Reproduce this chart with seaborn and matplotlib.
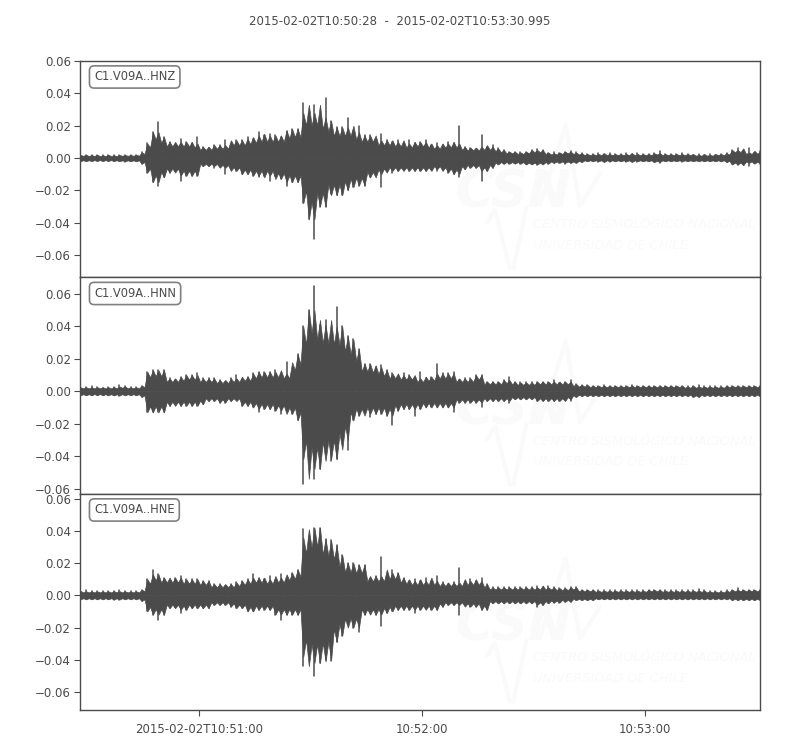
# -*- coding: utf-8 -*-
"""Three-component accelerogram of station C1.V09A, peaks read from the plot."""

import matplotlib.pyplot as plt
import numpy as np
import pandas as pd
import seaborn as sns

TITLE = '2015-02-02T10:50:28  -  2015-02-02T10:53:30.995'
CHANNELS = ['C1.V09A..HNZ', 'C1.V09A..HNN', 'C1.V09A..HNE']
SECONDS = np.arange(123) * 1.5  # seconds after 10:50:28
X_TICKS = [32, 92, 152]
X_TICK_LABELS = ['2015-02-02T10:51:00', '10:52:00', '10:53:00']
Y_TICKS = [-0.06, -0.04, -0.02, 0.0, 0.02, 0.04, 0.06]

# peak amplitudes in thousandths, upper and lower side of each trace
HNZ_HI = [2.0, 1.8, 2.0, 1.6, 2.0, 1.7, 2.1, 1.6, 1.9, 2.0,
          1.8, 3.5, 9, 16, 22, 13, 10, 8, 12, 10,
          9, 13, 7, 6, 8, 8, 11, 7, 11, 11,
          13, 12, 16, 14, 15, 14, 13, 17, 18, 18,
          34, 28, 33, 25, 37, 23, 19, 19, 25, 16,
          20, 14, 14, 8, 15, 11, 10, 11, 9, 11,
          9, 10, 11, 8, 9, 8, 10, 9, 20, 7,
          6.5, 5.5, 14, 7, 8, 6, 5, 4, 3.5, 4,
          3.5, 5, 5.5, 5, 3, 3.5, 3, 4, 4.5, 3.5,
          3, 2.5, 2.5, 3, 2.5, 3, 2.5, 2.5, 3, 2.5,
          3, 2.5, 2.5, 3, 4.5, 2.5, 2.5, 2.5, 3, 2.5,
          2, 2.5, 2, 2.5, 2, 2.5, 3, 5, 6, 3.5,
          6, 3, 4.5]
HNZ_LO = [2.0, 1.9, 1.7, 2.0, 1.8, 1.9, 1.6, 2.0, 2.2, 1.8,
          2, 3.5, 9, 15, 17, 12, 9, 8, 14, 11,
          11, 11, 5, 5, 6, 5, 10, 6, 8, 10,
          10, 11, 12, 11, 14, 11, 13, 17, 15, 15,
          28, 38, 50, 30, 30, 22, 23, 23, 20, 18,
          17, 17, 12, 10, 18, 8, 9, 8, 7, 8,
          8, 8, 8, 7, 8, 7, 9, 10, 12, 7,
          6, 6, 14, 8, 6, 3.5, 4, 3.5, 3, 3.5,
          4, 4, 4.5, 4, 3.5, 3, 3, 3.5, 3, 3,
          2.5, 2, 2, 2.5, 2, 2.5, 2, 2, 2.5, 2,
          2.5, 2, 2, 2.5, 3, 2, 2, 2, 2.5, 2,
          2, 2, 2, 2, 2, 2, 2.5, 4, 4.5, 3,
          5, 3, 3.5]

HNN_HI = [2.5, 2.5, 3.5, 2.5, 2.3, 2.5, 2.6, 4, 3, 2.5,
          2.5, 3.5, 12, 13, 13, 13, 8, 7, 9, 10,
          10, 11, 8, 8, 8, 7, 6, 8, 10, 7,
          9, 11, 12, 12, 12, 13, 10, 18, 11, 23,
          40, 50, 65, 41, 44, 28, 52, 40, 34, 32,
          26, 17, 17, 15, 16, 13, 11, 6, 11, 10,
          8, 12, 8, 9, 17, 11, 11, 12, 7, 8,
          8, 10, 10, 6, 6, 6, 7, 9, 6, 5.5,
          5.5, 5.5, 6, 6, 6, 7, 5, 6, 7, 4.5,
          4, 4, 3.5, 3.5, 4, 3.5, 3.5, 3.5, 3.5, 4,
          3.5, 3.5, 3.5, 3.5, 3.5, 3.5, 3.5, 3.5, 3, 3.5,
          3, 4, 3, 3, 3, 3, 3.5, 3.5, 3.5, 3.5,
          3.5, 3.5, 3.5]
HNN_LO = [2.5, 2.5, 2, 2.5, 2.4, 2.5, 2.6, 3, 2.5, 2.5,
          2.5, 3.5, 13, 13, 13, 13, 9, 7, 9, 9,
          9, 9, 8, 6, 6, 7, 7, 6, 5, 9,
          9, 10, 13, 11, 11, 12, 14, 11, 14, 18,
          57, 42, 54, 48, 32, 43, 42, 30, 36, 18,
          15, 13, 16, 14, 14, 15, 21, 12, 11, 11,
          15, 11, 10, 10, 10, 10, 10, 13, 7, 7,
          7, 7, 10, 6, 6, 6, 6, 7, 5, 5,
          5, 5, 6, 6, 6, 6, 6, 5, 6, 3.5,
          3, 3, 3, 3, 3, 3, 3, 3, 3, 3,
          3, 3, 3, 3, 3, 3, 3, 3, 3, 3,
          3.5, 3.5, 3, 3, 3, 3, 3, 3, 3, 3,
          3, 3, 3]

HNE_HI = [2.5, 3, 2.5, 2.5, 2.4, 2.5, 2.6, 3.5, 2.5, 2.5,
          2.5, 3.5, 10, 16, 13, 11, 9, 11, 12, 10,
          10, 10, 9, 9, 7, 7, 6, 7, 8, 9,
          10, 13, 11, 10, 12, 9, 13, 11, 14, 16,
          41, 36, 42, 42, 35, 34, 31, 25, 20, 20,
          19, 19, 10, 12, 24, 10, 16, 14, 11, 9,
          10, 9, 11, 9, 12, 8, 7, 8, 17, 8,
          10, 9, 11, 7, 5, 5, 5, 5, 5, 5,
          5, 5, 6, 5, 6, 5, 4.5, 4.5, 5, 5,
          3.5, 3.5, 3.5, 3, 3, 3, 3, 3, 3, 3,
          3, 3, 3.5, 3.5, 3.5, 3, 3, 3, 3, 3,
          3, 4, 3, 2.5, 2.5, 2.5, 3, 3.5, 4.5, 3.5,
          3.5, 3.5, 3.5]
HNE_LO = [2.5, 2.5, 2.5, 2.5, 2.4, 2.5, 2.6, 3, 2.5, 2.5,
          2.5, 3.5, 10, 12, 15, 12, 8, 7, 11, 9,
          8, 8, 8, 8, 6, 6, 6, 7, 8, 8,
          10, 10, 9, 9, 9, 12, 15, 12, 12, 12,
          44, 38, 50, 42, 40, 41, 29, 25, 14, 20,
          23, 12, 10, 12, 19, 11, 10, 9, 9, 9,
          11, 9, 8, 9, 9, 7, 6, 6, 12, 6,
          7, 7, 9, 9, 5, 5, 5, 5, 5, 5,
          5, 5, 7, 6, 5, 4.5, 4.5, 4, 4, 3,
          3, 3, 3, 2.5, 2.5, 2.5, 2.5, 2.5, 2.5, 2.5,
          2.5, 2.5, 2.5, 2.5, 2.5, 2.5, 2.5, 2.5, 2.5, 2.5,
          2.5, 2.5, 2.5, 2.5, 2.5, 2.5, 2.5, 3, 3, 3,
          3, 3, 3]

Y_LIMITS = [(-0.0736, 0.0603), (-0.0631, 0.0705), (-0.0711, 0.0631)]
TRACE_HI = [HNZ_HI, HNN_HI, HNE_HI]
TRACE_LO = [HNZ_LO, HNN_LO, HNE_LO]

INK = '#4b4b4b'
MARK = '#fafafa'
NARROW = ['Liberation Sans Narrow', 'DejaVu Sans']


def draw_watermark(ax):
    """Faint logo of the network, placed in axes fractions."""
    tr = ax.transAxes
    peak_x = [0.676, 0.714, 0.735, 0.765]
    peak_y = [0.33, 0.70, 0.33, 0.48]
    ax.plot(peak_x, peak_y, color=MARK, lw=3, transform=tr, zorder=1)
    wave_x = [0.598, 0.610, 0.632, 0.637, 0.656]
    wave_y = [0.25, 0.31, 0.04, 0.04, 0.32]
    ax.plot(wave_x, wave_y, color=MARK, lw=3, transform=tr, zorder=1)
    ax.text(0.552, 0.32, 'CSN', color=MARK, fontsize=37, fontweight='bold',
            style='italic', family=NARROW, transform=tr, zorder=1)
    ax.text(0.666, 0.225, 'CENTRO SISMOLÓGICO NACIONAL', color=MARK, fontsize=9.4,
            style='italic', family=NARROW, transform=tr, zorder=1)
    ax.text(0.666, 0.13, 'UNIVERSIDAD DE CHILE', color=MARK, fontsize=9.4,
            style='italic', family=NARROW, transform=tr, zorder=1)


def toothed(side, shrink):
    """Edge of the body: each peak as a tooth, valleys below the weaker neighbour."""
    valley = side.rolling(2).apply(lambda w: min(w, key=abs)).bfill() * shrink
    x = np.column_stack([SECONDS - 0.75, SECONDS]).ravel()
    y = np.column_stack([valley, side]).ravel()
    return x, y


def draw_trace(ax, hi, lo):
    """Solid body of the trace with the single peaks standing out of it."""
    upper = pd.Series(hi) * 1e-3
    lower = pd.Series(lo) * -1e-3
    # body is capped by neighbours, so lone spikes stay thin lines
    cap_hi = upper.rolling(3, center=True, min_periods=1).median()
    cap_lo = lower.rolling(3, center=True, min_periods=1).median()
    x_hi, y_hi = toothed(cap_hi, 0.72)
    x_lo, y_lo = toothed(cap_lo, 0.72)
    ax.fill_between(x_hi, 0, y_hi, color=INK, lw=0.5, zorder=3)
    ax.fill_between(x_lo, y_lo, 0, color=INK, lw=0.5, zorder=3)

    peaks = pd.DataFrame({
        'sample': np.tile(np.arange(len(SECONDS)), 2),
        'seconds': np.tile(SECONDS, 2),
        'amp': np.concatenate([upper, lower]),
    })
    sns.lineplot(data=peaks, x='seconds', y='amp', units='sample', estimator=None,
                 color=INK, lw=1.1, legend=False, ax=ax, zorder=3)


def main():
    sns.set_theme(style='ticks')
    plt.rcParams['font.family'] = ['DejaVu Sans']

    fig, axes = plt.subplots(3, 1, figsize=(8, 7.5), dpi=100, sharex=True)
    fig.subplots_adjust(left=0.1006, right=0.95, top=0.9193, bottom=0.0533, hspace=0)

    for ax, name, hi, lo, lims in zip(axes, CHANNELS, TRACE_HI, TRACE_LO, Y_LIMITS):
        draw_watermark(ax)
        draw_trace(ax, hi, lo)
        ax.set_xlim(0, 183)
        ax.set_ylim(*lims)
        ax.set_yticks(Y_TICKS)
        ax.set_yticklabels([f'{v:.2f}'.replace('-', '\u2212') for v in Y_TICKS])
        ax.set_xlabel('')
        ax.set_ylabel('')
        ax.tick_params(axis='y', labelsize=8.5, length=4, width=0.8, color=INK, labelcolor=INK, pad=3)
        ax.tick_params(axis='x', bottom=False)
        for side in ax.spines.values():
            side.set_color(INK)
            side.set_linewidth(1.0)
        ax.text(0.02, 0.924, name, transform=ax.transAxes, fontsize=8.3, color=INK,
                va='center', ha='left', zorder=5,
                bbox=dict(boxstyle='round,pad=0.4', fc='white', ec='#808080', lw=1.2))

    axes[-1].set_xticks(X_TICKS)
    axes[-1].set_xticklabels(X_TICK_LABELS)
    axes[-1].tick_params(axis='x', bottom=True, labelsize=8.5, length=4, width=0.8,
                         color=INK, labelcolor=INK, pad=5)

    fig.text(0.5, 0.9715, TITLE, ha='center', va='center', fontsize=8.5, color=INK)
    fig.savefig('out.png', dpi=100)
    plt.close(fig)


if __name__ == '__main__':
    main()
